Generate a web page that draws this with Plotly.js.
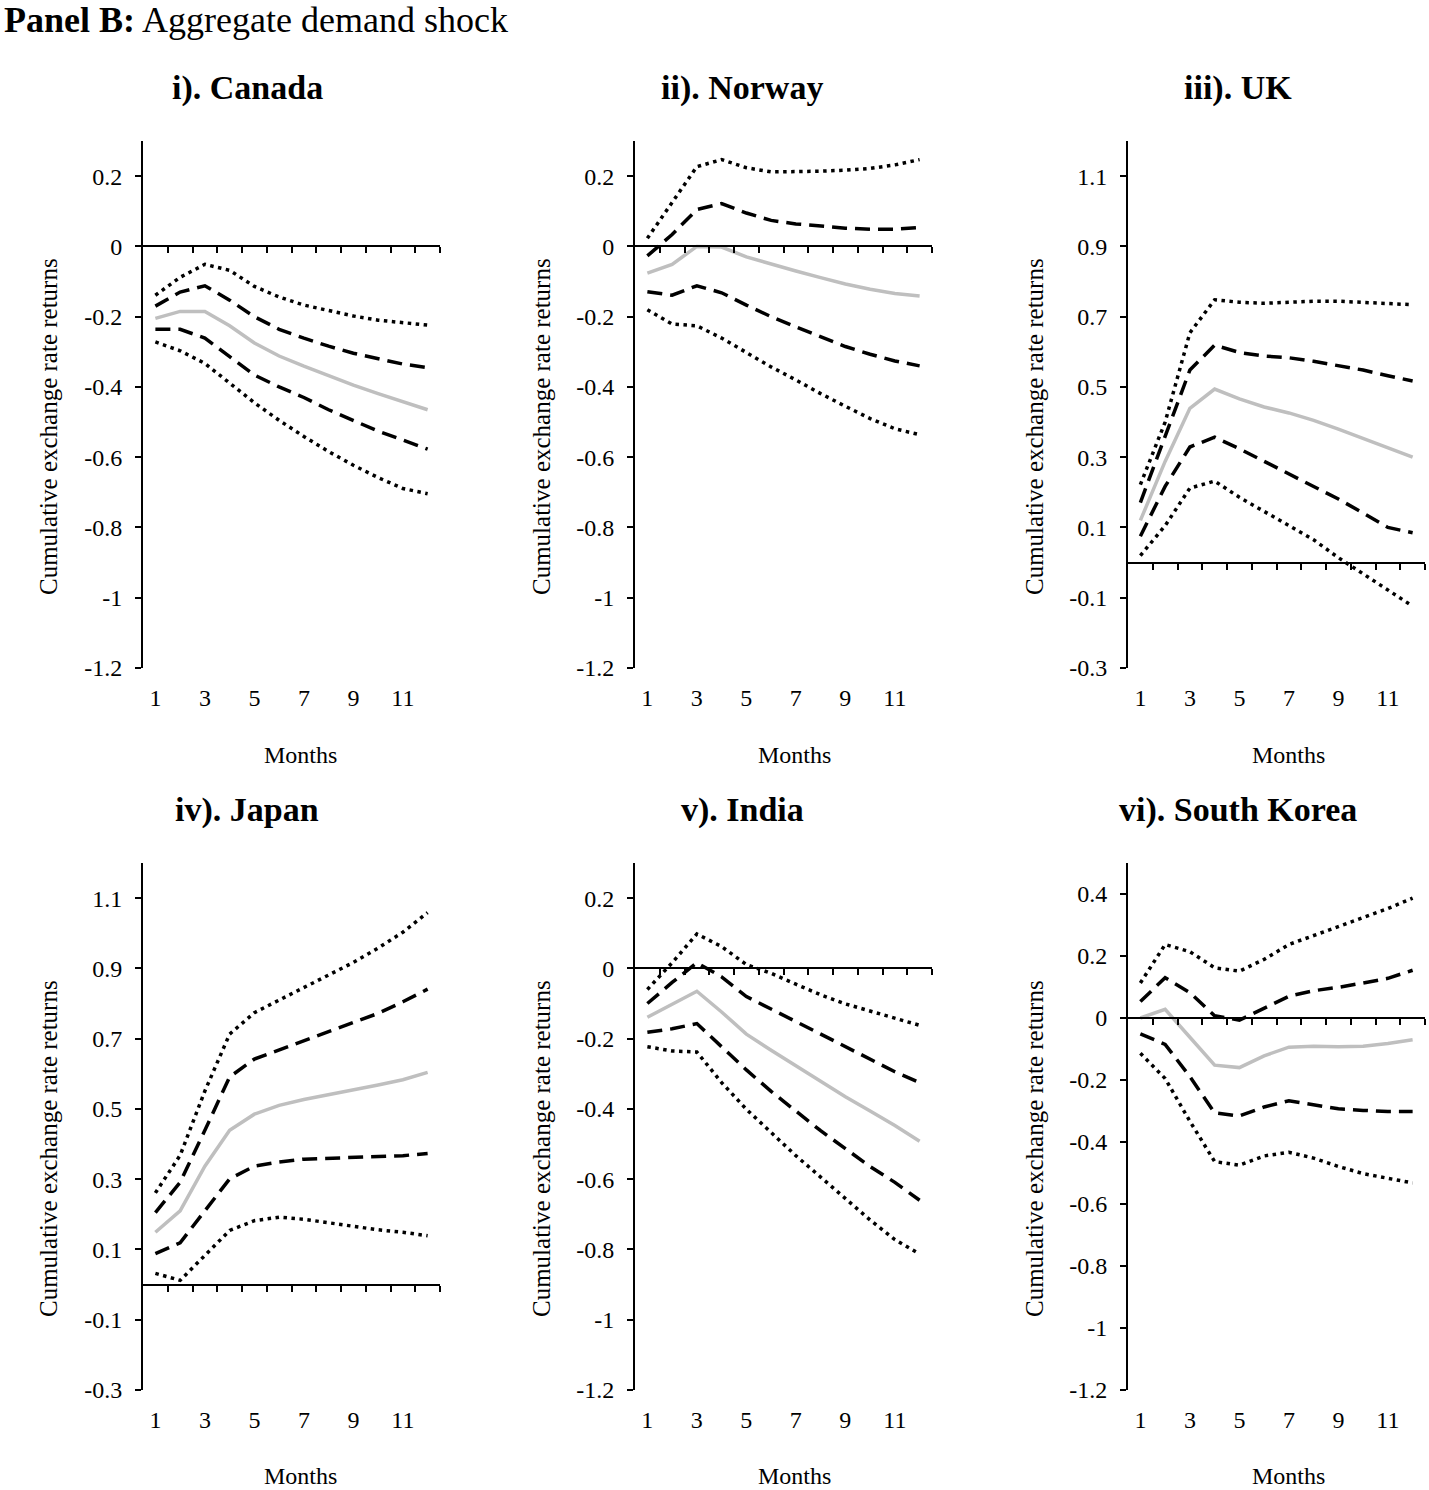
<!DOCTYPE html>
<html>
<head>
<meta charset="utf-8">
<script src="https://cdn.plot.ly/plotly-3.0.1.min.js"></script>
<style>
  html, body { margin: 0; padding: 0; background: #fff; }
  #chart { width: 1429px; height: 1490px; }
</style>
</head>
<body>
<div id="chart"></div>
<script>
// months after the shock
const months = [1, 2, 3, 4, 5, 6, 7, 8, 9, 10, 11, 12];
const monthTickVals = [1, 3, 5, 7, 9, 11];
const monthTickText = ['1', '3', '5', '7', '9', '11'];
// category boundaries, where the little ticks sit on the zero line
const boundaryTicks = [1.5, 2.5, 3.5, 4.5, 5.5, 6.5, 7.5, 8.5, 9.5, 10.5, 11.5, 12.5];

// y tick sets
const negTickVals = [-1.2, -1, -0.8, -0.6, -0.4, -0.2, 0, 0.2];
const negTickText = ['-1.2', '-1', '-0.8', '-0.6', '-0.4', '-0.2', '0', '0.2'];
const posTickVals = [-0.3, -0.1, 0.1, 0.3, 0.5, 0.7, 0.9, 1.1];
const posTickText = ['-0.3', '-0.1', '0.1', '0.3', '0.5', '0.7', '0.9', '1.1'];
const koreaTickVals = [-1.2, -1, -0.8, -0.6, -0.4, -0.2, 0, 0.2, 0.4];
const koreaTickText = ['-1.2', '-1', '-0.8', '-0.6', '-0.4', '-0.2', '0', '0.2', '0.4'];

// i). Canada
const canadaIrf     = [-0.205, -0.185, -0.185, -0.226, -0.275, -0.312, -0.341, -0.368, -0.395, -0.419, -0.442, -0.465];
const canadaInnerHi = [-0.170, -0.130, -0.112, -0.153, -0.200, -0.236, -0.261, -0.284, -0.304, -0.320, -0.335, -0.345];
const canadaInnerLo = [-0.236, -0.236, -0.261, -0.312, -0.366, -0.400, -0.430, -0.465, -0.495, -0.526, -0.551, -0.577];
const canadaOuterHi = [-0.139, -0.088, -0.051, -0.068, -0.114, -0.144, -0.167, -0.183, -0.198, -0.210, -0.218, -0.224];
const canadaOuterLo = [-0.272, -0.297, -0.333, -0.389, -0.445, -0.495, -0.541, -0.584, -0.623, -0.658, -0.689, -0.704];

// ii). Norway
const norwayIrf     = [-0.076, -0.051, 0.000, -0.002, -0.030, -0.051, -0.070, -0.089, -0.107, -0.122, -0.134, -0.141];
const norwayInnerHi = [-0.027, 0.034, 0.105, 0.122, 0.095, 0.074, 0.064, 0.057, 0.052, 0.049, 0.049, 0.054];
const norwayInnerLo = [-0.129, -0.139, -0.112, -0.132, -0.167, -0.200, -0.229, -0.258, -0.285, -0.307, -0.326, -0.340];
const norwayOuterHi = [0.023, 0.125, 0.227, 0.247, 0.224, 0.212, 0.212, 0.214, 0.217, 0.222, 0.232, 0.247];
const norwayOuterLo = [-0.180, -0.221, -0.226, -0.261, -0.302, -0.343, -0.380, -0.419, -0.455, -0.490, -0.519, -0.536];

// iii). UK
const ukIrf     = [0.120, 0.288, 0.439, 0.494, 0.466, 0.443, 0.426, 0.405, 0.380, 0.354, 0.327, 0.300];
const ukInnerHi = [0.171, 0.359, 0.548, 0.619, 0.598, 0.588, 0.583, 0.573, 0.561, 0.548, 0.532, 0.517];
const ukInnerLo = [0.075, 0.217, 0.329, 0.357, 0.324, 0.288, 0.253, 0.217, 0.181, 0.141, 0.100, 0.085];
const ukOuterHi = [0.222, 0.400, 0.654, 0.748, 0.741, 0.738, 0.741, 0.744, 0.744, 0.741, 0.738, 0.734];
const ukOuterLo = [0.020, 0.105, 0.212, 0.232, 0.186, 0.146, 0.105, 0.065, 0.014, -0.032, -0.078, -0.124];

// iv). Japan
const japanIrf     = [0.149, 0.210, 0.337, 0.439, 0.485, 0.510, 0.527, 0.540, 0.554, 0.568, 0.583, 0.604];
const japanInnerHi = [0.205, 0.291, 0.439, 0.591, 0.642, 0.668, 0.693, 0.719, 0.744, 0.772, 0.805, 0.841];
const japanInnerLo = [0.088, 0.119, 0.210, 0.301, 0.337, 0.349, 0.357, 0.359, 0.362, 0.364, 0.367, 0.373];
const japanOuterHi = [0.261, 0.368, 0.551, 0.713, 0.774, 0.810, 0.846, 0.881, 0.917, 0.958, 1.003, 1.059];
const japanOuterLo = [0.032, 0.012, 0.083, 0.154, 0.182, 0.192, 0.186, 0.176, 0.166, 0.156, 0.149, 0.139];

// v). India
const indiaIrf     = [-0.139, -0.101, -0.065, -0.124, -0.187, -0.233, -0.277, -0.321, -0.365, -0.406, -0.447, -0.492];
const indiaInnerHi = [-0.100, -0.040, 0.016, -0.024, -0.080, -0.116, -0.152, -0.187, -0.223, -0.258, -0.294, -0.325];
const indiaInnerLo = [-0.182, -0.172, -0.157, -0.223, -0.289, -0.350, -0.406, -0.462, -0.513, -0.564, -0.609, -0.660];
const indiaOuterHi = [-0.060, 0.016, 0.098, 0.062, 0.011, -0.014, -0.045, -0.075, -0.101, -0.121, -0.141, -0.162];
const indiaOuterLo = [-0.223, -0.235, -0.238, -0.325, -0.401, -0.467, -0.533, -0.594, -0.655, -0.716, -0.772, -0.813];

// vi). South Korea
const koreaIrf     = [0.000, 0.028, -0.062, -0.152, -0.160, -0.122, -0.094, -0.091, -0.093, -0.091, -0.082, -0.070];
const koreaInnerHi = [0.053, 0.130, 0.082, 0.007, -0.007, 0.030, 0.070, 0.088, 0.099, 0.113, 0.128, 0.154];
const koreaInnerLo = [-0.051, -0.085, -0.189, -0.306, -0.316, -0.287, -0.267, -0.279, -0.293, -0.298, -0.302, -0.302];
const koreaOuterHi = [0.113, 0.237, 0.214, 0.162, 0.151, 0.189, 0.237, 0.266, 0.295, 0.324, 0.353, 0.387];
const koreaOuterLo = [-0.114, -0.195, -0.333, -0.463, -0.475, -0.445, -0.433, -0.452, -0.479, -0.502, -0.517, -0.532];

const panels = [
    {title: 'i). Canada', irf: canadaIrf, innerHi: canadaInnerHi, innerLo: canadaInnerLo, outerHi: canadaOuterHi, outerLo: canadaOuterLo,
        range: [-1.2, 0.3], tickvals: negTickVals, ticktext: negTickText},
    {title: 'ii). Norway', irf: norwayIrf, innerHi: norwayInnerHi, innerLo: norwayInnerLo, outerHi: norwayOuterHi, outerLo: norwayOuterLo,
        range: [-1.2, 0.3], tickvals: negTickVals, ticktext: negTickText},
    {title: 'iii). UK', irf: ukIrf, innerHi: ukInnerHi, innerLo: ukInnerLo, outerHi: ukOuterHi, outerLo: ukOuterLo,
        range: [-0.3, 1.2], tickvals: posTickVals, ticktext: posTickText},
    {title: 'iv). Japan', irf: japanIrf, innerHi: japanInnerHi, innerLo: japanInnerLo, outerHi: japanOuterHi, outerLo: japanOuterLo,
        range: [-0.3, 1.2], tickvals: posTickVals, ticktext: posTickText},
    {title: 'v). India', irf: indiaIrf, innerHi: indiaInnerHi, innerLo: indiaInnerLo, outerHi: indiaOuterHi, outerLo: indiaOuterLo,
        range: [-1.2, 0.3], tickvals: negTickVals, ticktext: negTickText},
    {title: 'vi). South Korea', irf: koreaIrf, innerHi: koreaInnerHi, innerLo: koreaInnerLo, outerHi: koreaOuterHi, outerLo: koreaOuterLo,
        range: [-1.2, 0.5], tickvals: koreaTickVals, ticktext: koreaTickText},
];

// page geometry in pixels
const W = 1429, H = 1490;
const colLeft = [143, 635, 1128];
const plotW = 297;
const rowTop = [141, 863];
const plotH = 527;
const titleX = [247, 742, 1238];
const titleY = [88, 810];
const monthsX = [300, 794, 1288];
const monthsY = [755, 1476];
const yTitleX = [48, 541, 1034];
const yTitleY = [427, 1149];

const FONT = 'Liberation Serif, Times New Roman, serif';

const px = x => x / W;
const py = y => 1 - y / H;

const traces = [];
const layout = {
    width: W,
    height: H,
    margin: {l: 0, r: 0, t: 0, b: 0},
    paper_bgcolor: '#ffffff',
    plot_bgcolor: 'rgba(0,0,0,0)',
    showlegend: false,
    font: {family: FONT, color: '#000', size: 24},
    annotations: [],
};

layout.annotations.push({
    xref: 'paper', yref: 'paper', x: px(2), y: py(20), xanchor: 'left', yanchor: 'middle',
    text: '<b>Panel B:</b> Aggregate demand shock', showarrow: false,
    font: {family: FONT, size: 36, color: '#000'}
});

panels.forEach((p, i) => {
    const row = Math.floor(i / 3), col = i % 3;
    const n = i + 1;
    const zn = i + 7;  // overlaying axis that draws the zero line
    const xa = 'x' + n, xz = 'x' + zn, ya = 'y' + n;

    const lineStyles = [
        {key: 'outerHi', color: '#000', width: 3.5, dash: '3.5px,4.5px', axis: xz},
        {key: 'outerLo', color: '#000', width: 3.5, dash: '3.5px,4.5px', axis: xz},
        {key: 'innerHi', color: '#000', width: 3.5, dash: '15px,8px', axis: xz},
        {key: 'innerLo', color: '#000', width: 3.5, dash: '15px,8px', axis: xz},
        {key: 'irf', color: '#bfbfbf', width: 3.5, dash: 'solid', axis: xa},
    ];
    lineStyles.forEach(s => {
        traces.push({
            x: months, y: p[s.key], xaxis: s.axis, yaxis: ya,
            type: 'scatter', mode: 'lines',
            line: {color: s.color, width: s.width, dash: s.dash},
            hoverinfo: 'skip'
        });
    });

    const domX = [px(colLeft[col]), px(colLeft[col] + plotW)];
    const domY = [py(rowTop[row] + plotH), py(rowTop[row])];
    const zeroFrac = (0 - p.range[0]) / (p.range[1] - p.range[0]);
    const zeroPos = domY[0] + zeroFrac * (domY[1] - domY[0]);

    // month labels at the bottom of the plot area
    layout['xaxis' + n] = {
        domain: domX, anchor: ya,
        range: [0.5, 12.5], fixedrange: true,
        showgrid: false, zeroline: false, showline: false,
        ticks: 'outside', ticklen: 8, tickcolor: 'rgba(0,0,0,0)',
        tickmode: 'array', tickvals: monthTickVals, ticktext: monthTickText,
        tickfont: {family: FONT, size: 24, color: '#000'}
    };
    // x axis line on the zero line with ticks between the categories
    layout['xaxis' + zn] = {
        domain: domX, overlaying: xa, anchor: 'free', position: zeroPos,
        range: [0.5, 12.5], fixedrange: true,
        showgrid: false, zeroline: false,
        showline: true, linecolor: '#000', linewidth: 2,
        ticks: 'outside', ticklen: 6, tickwidth: 2, tickcolor: '#000',
        tickmode: 'array', tickvals: boundaryTicks, showticklabels: false
    };
    layout['yaxis' + n] = {
        domain: domY, anchor: xa,
        range: p.range, fixedrange: true,
        showgrid: false, zeroline: false,
        showline: true, linecolor: '#000', linewidth: 2,
        ticks: 'outside', ticklen: 6, tickwidth: 2, tickcolor: '#000',
        tickmode: 'array', tickvals: p.tickvals, ticktext: p.ticktext,
        tickfont: {family: FONT, size: 24, color: '#000'},
        ticklabelstandoff: 8
    };

    layout.annotations.push({
        xref: 'paper', yref: 'paper', x: px(titleX[col]), y: py(titleY[row]),
        xanchor: 'center', yanchor: 'middle', showarrow: false,
        text: '<b>' + p.title + '</b>', font: {family: FONT, size: 34, color: '#000'}
    });
    layout.annotations.push({
        xref: 'paper', yref: 'paper', x: px(monthsX[col]), y: py(monthsY[row]),
        xanchor: 'center', yanchor: 'middle', showarrow: false,
        text: 'Months', font: {family: FONT, size: 24, color: '#000'}
    });
    layout.annotations.push({
        xref: 'paper', yref: 'paper', x: px(yTitleX[col]), y: py(yTitleY[row]),
        xanchor: 'center', yanchor: 'middle', showarrow: false, textangle: -90,
        text: 'Cumulative exchange rate returns', font: {family: FONT, size: 25, color: '#000'}
    });
});

Plotly.newPlot('chart', traces, layout, {staticPlot: true, displayModeBar: false});
</script>
</body>
</html>
